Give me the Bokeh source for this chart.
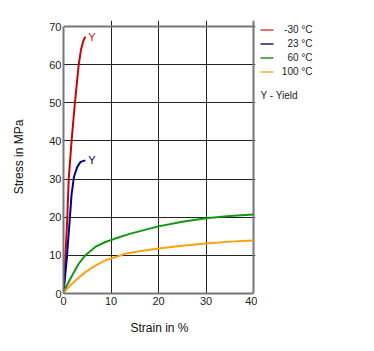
from bokeh.plotting import figure
from bokeh.models import Range1d, Label, FixedTicker, Grid
from bokeh.layouts import row
from bokeh.core.properties import value
from bokeh.embed import file_html
from bokeh.resources import INLINE

# Data
red_x = [0, 0.42, 0.8, 1.1, 1.7, 2.4, 3.2, 3.7, 4.2, 4.6]
red_y = [0, 10, 20, 30, 40, 50, 60, 64, 66.3, 67.3]
blue_x = [0, 0.75, 1.35, 1.7, 2.2, 2.9, 3.6, 4.6]
blue_y = [0, 10, 20, 26, 30.6, 33.2, 34.5, 34.9]
green_x = [0, 0.3, 1.1, 2.2, 3.2, 4.6, 6.7, 8.8, 10.9, 14.1, 20, 25, 30, 35, 40]
green_y = [0, 1.1, 3.0, 5.6, 7.8, 10, 12.2, 13.5, 14.4, 15.7, 17.6, 18.8, 19.7, 20.3, 20.7]
orange_x = [0, 0.3, 1.1, 2.5, 4.6, 6.7, 8.8, 10.9, 12.9, 16, 20, 25, 30, 35, 40]
orange_y = [0, 0.6, 1.7, 3.4, 5.6, 7.3, 8.7, 9.5, 10.4, 11.1, 11.8, 12.5, 13.1, 13.6, 13.9]
series_names = ["-30 °C", "23 °C", "60 °C", "100 °C"]
series_colors = ["#d40000", "#000090", "#109910", "#ffa010"]
legend_colors = ["#e83c3c", "#1a1a8c", "#1a9a1a", "#ffa830"]
x_ticks = [0, 10, 20, 30, 40]
y_ticks = [0, 10, 20, 30, 40, 50, 60, 70]

FONT = "Liberation Sans"
X_MAX, Y_MAX = x_ticks[-1], y_ticks[-1]
# frame: 63..255 px wide (x=40 at 253), 20..293 px tall (y=70 at 26)
X_END = X_MAX * 192 / 190
Y_END = Y_MAX * 273 / 267

p = figure(width=257, height=351, output_backend="svg", toolbar_location=None,
           x_range=Range1d(0, X_END), y_range=Range1d(0, Y_END),
           min_border_left=63, min_border_right=2, min_border_top=20, min_border_bottom=58)
p.background_fill_color = "white"
p.border_fill_color = "white"
p.outline_line_color = None

for ax in (p.xaxis[0], p.yaxis[0]):
    ax.axis_line_color = "#777777"
    ax.axis_line_width = 2
    ax.major_tick_line_color = None
    ax.minor_tick_line_color = None
    ax.major_tick_out = 0
    ax.major_tick_in = 0
    ax.major_label_text_font = FONT
    ax.major_label_text_font_size = "11px"
    ax.major_label_text_color = "#222222"
    ax.axis_label_text_font = FONT
    ax.axis_label_text_font_size = "12px"
    ax.axis_label_text_font_style = "normal"
    ax.axis_label_text_color = "#111111"

p.xaxis.ticker = FixedTicker(ticks=x_ticks)
p.yaxis.ticker = FixedTicker(ticks=y_ticks)
p.xaxis.bounds = (0, X_MAX)
p.yaxis.bounds = (0, Y_MAX)
p.xaxis.axis_label = "Strain in %"
p.yaxis.axis_label = "Stress in MPa"
p.xaxis.major_label_standoff = 3
p.yaxis.major_label_standoff = 2
p.xaxis.axis_label_standoff = 13
p.yaxis.axis_label_standoff = 20

p.xgrid.ticker = FixedTicker(ticks=x_ticks[1:-1])
p.ygrid.ticker = FixedTicker(ticks=y_ticks[1:-1])
p.xgrid.bounds = (0, Y_MAX)
p.ygrid.bounds = (0, X_MAX)
p.grid.grid_line_color = "#222222"
p.grid.grid_line_width = 1

# plot-area border (top and right) as grey grid lines
p.add_layout(Grid(dimension=0, ticker=FixedTicker(ticks=[X_MAX]), bounds=(0, Y_MAX),
                  grid_line_color="#777777", grid_line_width=2))
p.add_layout(Grid(dimension=1, ticker=FixedTicker(ticks=[Y_MAX]), bounds=(0, X_MAX),
                  grid_line_color="#777777", grid_line_width=2))

xs = [red_x, blue_x, green_x, orange_x]
ys = [red_y, blue_y, green_y, orange_y]
for x, y, c in zip(xs, ys, series_colors):
    p.line(x, y, line_color=c, line_width=2)

# Yield markers
p.add_layout(Label(x=red_x[-1], y=red_y[-1], text="Y", text_color="#e01010",
                   text_font=FONT, text_font_size="11px", x_offset=3, y_offset=0,
                   text_baseline="middle"))
p.add_layout(Label(x=blue_x[-1], y=blue_y[-1], text="Y", text_color="#000090",
                   text_font=FONT, text_font_size="11px", x_offset=3, y_offset=0,
                   text_baseline="middle"))

# Legend panel as a separate pixel-space figure (frame aligned with main plot frame)
q = figure(width=117, height=351, output_backend="svg", toolbar_location=None,
           x_range=Range1d(0, 117), y_range=Range1d(293, 20),
           x_axis_location=None, y_axis_location=None,
           min_border_left=0, min_border_right=0,
           min_border_top=20, min_border_bottom=58)
q.outline_line_color = None
q.grid.visible = False
q.background_fill_color = "white"
q.border_fill_color = "white"

leg_rows = [29, 43, 57, 71]
for c, r in zip(legend_colors, leg_rows):
    q.line(x=[3, 16], y=[r + 0.5, r + 0.5], line_color=c, line_width=1.5)
q.text(x=[55] * 4, y=leg_rows, text=series_names, text_align="right", text_baseline="middle",
       text_font=value(FONT), text_font_size="10px", text_color="#222222")
q.text(x=[3], y=[95], text=["Y - Yield"], text_align="left", text_baseline="middle",
       text_font=value(FONT), text_font_size="10px", text_color="#222222")

layout = row(p, q)
open("out.html", "w").write(file_html(layout, INLINE))
